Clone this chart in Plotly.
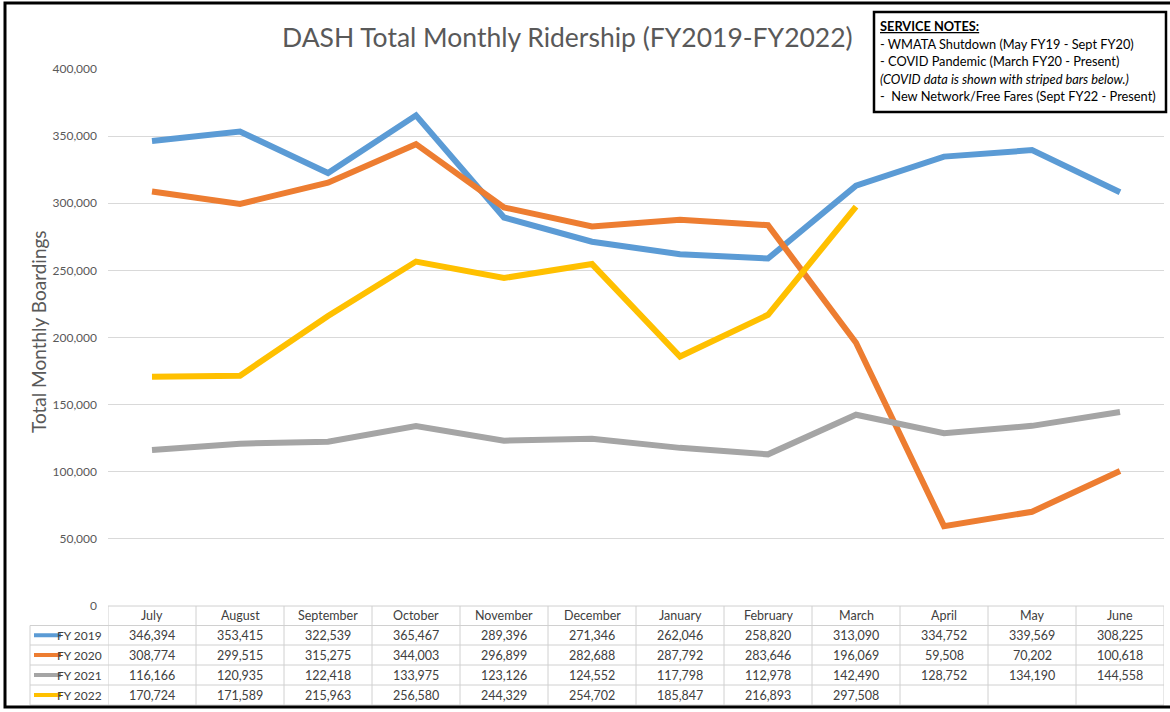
import plotly.graph_objects as go

months = ["July", "August", "September", "October", "November", "December",
          "January", "February", "March", "April", "May", "June"]
series_names = ["FY 2019", "FY 2020", "FY 2021", "FY 2022"]
fy2019 = [346394, 353415, 322539, 365467, 289396, 271346, 262046, 258820, 313090, 334752, 339569, 308225]
fy2020 = [308774, 299515, 315275, 344003, 296899, 282688, 287792, 283646, 196069, 59508, 70202, 100618]
fy2021 = [116166, 120935, 122418, 133975, 123126, 124552, 117798, 112978, 142490, 128752, 134190, 144558]
fy2022 = [170724, 171589, 215963, 256580, 244329, 254702, 185847, 216893, 297508, None, None, None]
colors = ["#5B9BD5", "#ED7D31", "#A5A5A5", "#FFC000"]
title_text = "DASH Total Monthly Ridership (FY2019-FY2022)"
y_title = "Total Monthly Boardings"
notes = ["<b><u>SERVICE NOTES:</u></b>",
         "- WMATA Shutdown (May FY19 - Sept FY20)",
         "- COVID Pandemic (March FY20 - Present)",
         "<i>(COVID data is shown with striped bars below.)</i>",
         "-  New Network/Free Fares (Sept FY22 - Present)"]

all_series = [fy2019, fy2020, fy2021, fy2022]

W, H = 1170, 712
L, R, T, B = 108, 1164, 69, 606
pw, ph = R - L, B - T

def px(x):
    return (x - L) / pw

def py(y):
    return (B - y) / ph

FONT = "Lato"
fig = go.Figure()
xs = list(range(12))
for name, vals, c in zip(series_names, all_series, colors):
    fig.add_trace(go.Scatter(x=xs, y=vals, mode="lines", name=name,
                             line=dict(color=c, width=6), connectgaps=False,
                             showlegend=False))

shapes = []
annotations = []
row_edges = [606, 625.5, 645, 665, 685, 705]
grid_c = "#D0D0D0"
for k, ry in enumerate(row_edges):
    if k == 0:
        shapes.append(dict(type="line", xref="x", yref="paper", x0=-0.5, x1=11.5,
                           y0=py(ry), y1=py(ry), line=dict(color=grid_c, width=1)))
    else:
        shapes.append(dict(type="line", xref="paper", yref="paper", x0=px(30), x1=1,
                           y0=py(ry), y1=py(ry), line=dict(color=grid_c, width=1)))
for i in range(13):
    shapes.append(dict(type="line", xref="x", yref="paper", x0=i - 0.5, x1=i - 0.5,
                       y0=py(row_edges[0]), y1=py(row_edges[-1]), line=dict(color=grid_c, width=1)))
shapes.append(dict(type="line", xref="paper", yref="paper", x0=px(30), x1=px(30),
                   y0=py(row_edges[1]), y1=py(row_edges[-1]), line=dict(color=grid_c, width=1)))

tcol = "#404040"
TFS = 12.5
for i, m in enumerate(months):
    annotations.append(dict(x=i, y=py((row_edges[0] + row_edges[1]) / 2), xref="x", yref="paper",
                            text=m, showarrow=False, xanchor="center", yanchor="middle",
                            font=dict(family=FONT, size=TFS, color=tcol)))
for r, (name, vals, c) in enumerate(zip(series_names, all_series, colors)):
    yc = py((row_edges[r + 1] + row_edges[r + 2]) / 2)
    for i, v in enumerate(vals):
        if v is not None:
            annotations.append(dict(x=i, y=yc, xref="x", yref="paper", text=f"{v:,}",
                                    showarrow=False, xanchor="center", yanchor="middle",
                                    font=dict(family=FONT, size=TFS, color=tcol)))
    shapes.append(dict(type="line", xref="paper", yref="paper", x0=px(34), x1=px(61),
                       y0=yc, y1=yc, line=dict(color=c, width=4)))
    annotations.append(dict(x=px(104), y=yc, xref="paper", yref="paper", text=name,
                            xanchor="right", yanchor="middle", showarrow=False,
                            font=dict(family=FONT, size=12, color=tcol)))

annotations.append(dict(x=px(567), y=py(37), xref="paper", yref="paper", text=title_text,
                        xanchor="center", yanchor="middle", showarrow=False,
                        font=dict(family=FONT, size=26.5, color="#595959")))
annotations.append(dict(x=px(38), y=py(332), xref="paper", yref="paper", text=y_title,
                        textangle=-90, xanchor="center", yanchor="middle", showarrow=False,
                        font=dict(family=FONT, size=19, color="#595959")))
shapes.append(dict(type="rect", xref="paper", yref="paper", x0=px(874), x1=px(1166),
                   y0=py(12), y1=py(112), line=dict(color="black", width=2.5), fillcolor="white"))
for k, t in enumerate(notes):
    annotations.append(dict(x=px(878), y=py(26 + 17.5 * k), xref="paper", yref="paper", text=t,
                            xanchor="left", yanchor="middle", showarrow=False,
                            font=dict(family=FONT, size=12.8, color="black")))
shapes.append(dict(type="rect", xref="paper", yref="paper", x0=px(5), x1=px(1180),
                   y0=py(3), y1=py(707), line=dict(color="black", width=3), layer="above"))

fig.update_layout(
    width=W, height=H,
    margin=dict(l=L, r=W - R, t=T, b=H - B),
    paper_bgcolor="white", plot_bgcolor="white",
    shapes=shapes, annotations=annotations,
    xaxis=dict(range=[-0.5, 11.5], showticklabels=False, showgrid=False, zeroline=False,
               showline=False, fixedrange=True),
    yaxis=dict(range=[0, 400000], dtick=50000, tickformat=",", showgrid=True,
               gridcolor="#D9D9D9", gridwidth=1, zeroline=False, showline=False,
               ticks="", ticklabelstandoff=10,
               tickfont=dict(family=FONT, size=12, color="#595959")),
    font=dict(family=FONT),
)
fig.write_html("out.html", config={"displayModeBar": False},
               post_script="document.body.style.margin='0px';document.body.style.overflow='hidden';")
